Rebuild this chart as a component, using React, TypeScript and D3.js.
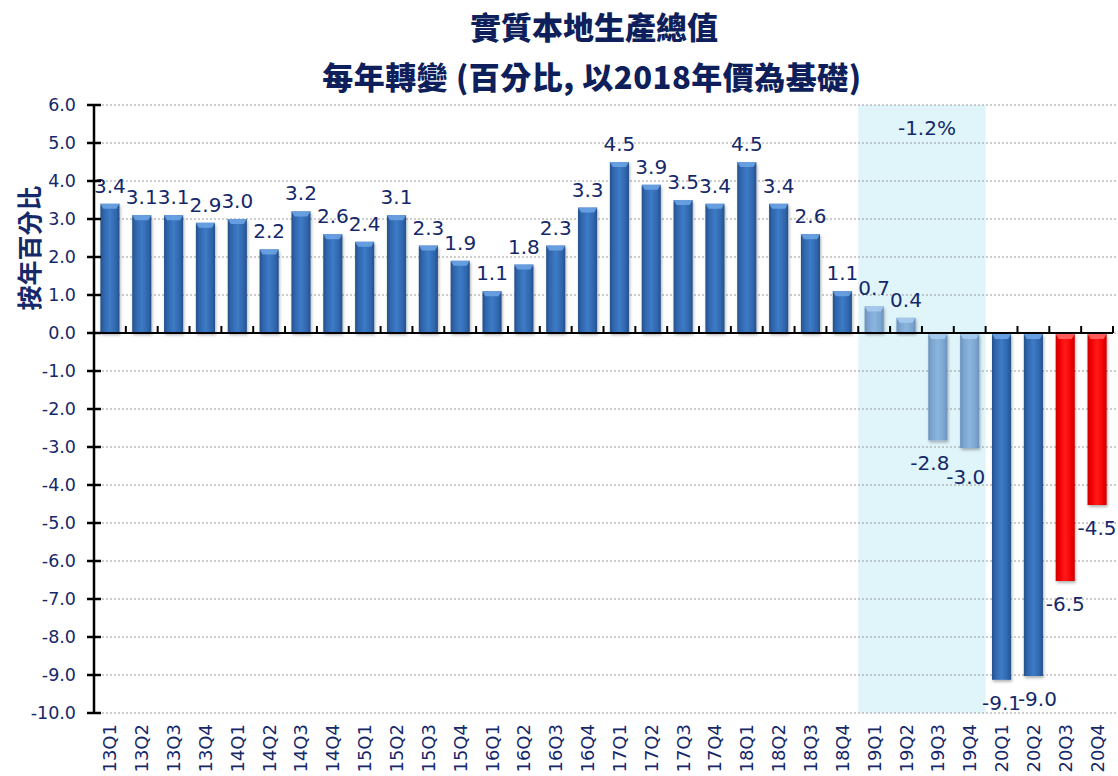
import React from "react";
import * as d3 from "d3";

const categories = [
  "13Q1","13Q2","13Q3","13Q4","14Q1","14Q2","14Q3","14Q4",
  "15Q1","15Q2","15Q3","15Q4","16Q1","16Q2","16Q3","16Q4",
  "17Q1","17Q2","17Q3","17Q4","18Q1","18Q2","18Q3","18Q4",
  "19Q1","19Q2","19Q3","19Q4","20Q1","20Q2","20Q3","20Q4",
];
const values = [
  3.4,3.1,3.1,2.9,3.0,2.2,3.2,2.6,
  2.4,3.1,2.3,1.9,1.1,1.8,2.3,3.3,
  4.5,3.9,3.5,3.4,4.5,3.4,2.6,1.1,
  0.7,0.4,-2.8,-3.0,-9.1,-9.0,-6.5,-4.5,
];
// series group per bar: 0 = dark blue, 1 = light blue (2019), 2 = red (forecast)
const groups = [
  0,0,0,0,0,0,0,0,0,0,0,0,0,0,0,0,
  0,0,0,0,0,0,0,0,1,1,1,1,0,0,2,2,
];
const yTicks = [6,5,4,3,2,1,0,-1,-2,-3,-4,-5,-6,-7,-8,-9,-10];
const shadedRange = ["19Q1", "19Q4"];
const shadedLabel = "-1.2%";
const titleLine1 = "實質本地生產總值";
const titleLine2 = "每年轉變 (百分比, 以2018年價為基礎)";
const yTitle = "按年百分比";

const NAVY = "#14286a";
const LATIN = "'DejaVu Sans', Verdana, sans-serif";
const CJK = "'Noto Sans CJK TC', 'Noto Sans CJK SC', sans-serif";

const palettes = [
  { edge: "#24508a", mid: "#2f66ad", center: "#3d7bc6", cap: "#6fa6e6" },
  { edge: "#6990bb", mid: "#7aa5d0", center: "#8bb5de", cap: "#a9cdf0" },
  { edge: "#c80000", mid: "#f00000", center: "#ff1a1a", cap: "#ff6a6a" },
];

// label nudges (as in the reference, where the label placer shifted a few labels)
const nudge: Record<string, [number, number]> = {
  "19Q3": [-8, 0],
  "19Q4": [-4, 6],
  "20Q2": [4, 0],
};

export default function App() {
  const W = 1118, H = 776;
  const left = 94, right = 1113;
  const x = d3.scaleBand<string>().domain(categories).range([left, right]).paddingInner(0.4).paddingOuter(0.2);
  const y = d3.scaleLinear().domain([-10, 6]).range([713, 105]);
  const step = x.step();
  const bw = x.bandwidth();
  const y0 = y(0);
  const shadeX0 = (x(shadedRange[0]) as number) - step * 0.2;
  const shadeX1 = (x(shadedRange[1]) as number) + bw + step * 0.2;

  return (
    <svg width={W} height={H} style={{ position: "absolute", left: 0, top: 0, background: "#fff" }}>
      <defs>
        {palettes.map((p, i) => (
          <linearGradient key={i} id={`g${i}`} x1="0" x2="1" y1="0" y2="0">
            <stop offset="0%" stopColor={p.edge} />
            <stop offset="18%" stopColor={p.mid} />
            <stop offset="50%" stopColor={p.center} />
            <stop offset="82%" stopColor={p.mid} />
            <stop offset="100%" stopColor={p.edge} />
          </linearGradient>
        ))}
        <filter id="sh" x="-30%" y="-10%" width="160%" height="130%">
          <feDropShadow dx="1" dy="2" stdDeviation="1.5" floodColor="#000" floodOpacity="0.3" />
        </filter>
      </defs>
      <rect x={0} y={0} width={W} height={H} fill="#fff" />

      {/* title */}
      <text x={594} y={39} textAnchor="middle" fontFamily={CJK} fontWeight="900" fontSize={31} fill="#0e1f5b">{titleLine1}</text>
      <text x={592} y={89} textAnchor="middle" fontFamily={CJK} fontWeight="900" fontSize={31} fill="#0e1f5b" letterSpacing={0.5}>{titleLine2}</text>

      {/* shaded region */}
      <rect x={shadeX0} y={y(6)} width={shadeX1 - shadeX0} height={y(-10) - y(6)} fill="#e0f5fa" />
      <text x={(shadeX0 + shadeX1) / 2 + 5} y={135} textAnchor="middle" fontFamily={LATIN} fontSize={20} fill={NAVY}>{shadedLabel}</text>

      {/* gridlines */}
      {yTicks.map((t) => (
        <line key={t} x1={left} x2={1117} y1={y(t)} y2={y(t)} stroke="#9a9a9a" strokeWidth={1} strokeDasharray="2,2" />
      ))}

      {/* bars */}
      {values.map((v, i) => {
        const bx = x(categories[i]) as number;
        const top = v >= 0 ? y(v) : y0 + 1;
        const h = Math.abs(y(v) - y0);
        const g = groups[i];
        const capH = Math.min(5, h);
        return (
          <g key={i}>
            <rect x={bx} y={top} width={bw} height={h} fill={`url(#g${g})`} filter="url(#sh)" />
            <polygon
              points={`${bx},${top} ${bx + bw},${top} ${bx + bw - 3},${top + capH} ${bx + 3},${top + capH}`}
              fill={palettes[g].cap}
              opacity={0.85}
            />
          </g>
        );
      })}

      {/* data labels */}
      {values.map((v, i) => {
        const [ndx, ndy] = nudge[categories[i]] || [0, 0];
        const cx = (x(categories[i]) as number) + bw / 2 + ndx;
        const ly = (v >= 0 ? y(v) - 11 : y(v) + 31) + ndy;
        return (
          <text key={i} x={cx} y={ly} textAnchor="middle" fontFamily={LATIN} fontSize={20} fill={NAVY}>
            {v.toFixed(1)}
          </text>
        );
      })}

      {/* y axis */}
      <line x1={left} x2={left} y1={y(6)} y2={y(-10)} stroke="#000" strokeWidth={2.5} />
      {yTicks.map((t) => (
        <g key={t}>
          <line x1={87} x2={101} y1={y(t)} y2={y(t)} stroke="#000" strokeWidth={2.5} />
          <text x={76} y={y(t)} dy="0.36em" textAnchor="end" fontFamily={LATIN} fontSize={17.5} fill={NAVY}>
            {t.toFixed(1)}
          </text>
        </g>
      ))}

      {/* x axis */}
      <line x1={left} x2={right} y1={y0} y2={y0} stroke="#000" strokeWidth={2} />
      {categories.map((c) => {
        const tx = (x(c) as number) - step * 0.2 + step;
        return <line key={c} x1={tx} x2={tx} y1={y0 - 7} y2={y0} stroke="#000" strokeWidth={2} />;
      })}
      {categories.map((c) => {
        const cx = (x(c) as number) + bw / 2;
        return (
          <text key={c} transform={`translate(${cx},724) rotate(-90)`} dy="0.36em" textAnchor="end" fontFamily={LATIN} fontSize={18} fill={NAVY}>
            {c}
          </text>
        );
      })}

      {/* y title */}
      <text transform="translate(30,248) rotate(-90)" dy="0.36em" textAnchor="middle" fontFamily={CJK} fontWeight="bold" fontSize={25} fill={NAVY}>
        {yTitle}
      </text>
    </svg>
  );
}
